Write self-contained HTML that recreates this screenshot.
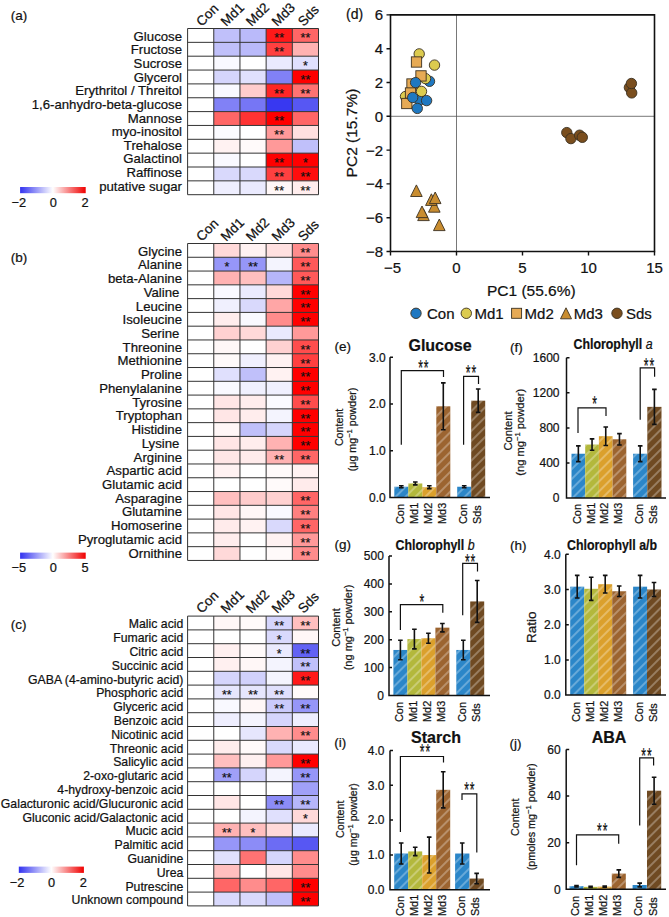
<!DOCTYPE html>
<html><head><meta charset="utf-8"><style>
html,body{margin:0;padding:0;background:#fff;}
body{width:669px;height:917px;overflow:hidden;}
svg{display:block;font-family:"Liberation Sans", sans-serif;}
text{stroke:#111;stroke-width:0.22px;}
</style></head><body>
<svg width="669" height="917" viewBox="0 0 669 917">
<rect width="669" height="917" fill="#fff"/>
<text x="10.8" y="20.3" font-size="13.5" text-anchor="start" font-weight="normal" fill="#111" >(a)</text>
<rect x="187.6" y="28.50" width="26.180000000000007" height="13.85" fill="rgb(255,255,255)"/>
<rect x="213.78" y="28.50" width="26.180000000000007" height="13.85" fill="rgb(192,192,250)"/>
<rect x="239.96" y="28.50" width="26.17999999999998" height="13.85" fill="rgb(186,186,250)"/>
<rect x="266.14" y="28.50" width="26.180000000000007" height="13.85" fill="rgb(255,25,25)"/>
<rect x="292.32" y="28.50" width="26.180000000000007" height="13.85" fill="rgb(255,102,102)"/>
<text x="182" y="40.8" font-size="13.2" text-anchor="end" font-weight="normal" fill="#111" >Glucose</text>
<text x="279.23" y="42.324999999999996" font-size="12.5" text-anchor="middle" font-weight="normal" fill="#111" stroke="#111" stroke-width="0.3">**</text>
<text x="305.40999999999997" y="42.324999999999996" font-size="12.5" text-anchor="middle" font-weight="normal" fill="#111" stroke="#111" stroke-width="0.3">**</text>
<rect x="187.6" y="42.35" width="26.180000000000007" height="13.85" fill="rgb(255,255,255)"/>
<rect x="213.78" y="42.35" width="26.180000000000007" height="13.85" fill="rgb(192,192,250)"/>
<rect x="239.96" y="42.35" width="26.17999999999998" height="13.85" fill="rgb(186,186,250)"/>
<rect x="266.14" y="42.35" width="26.180000000000007" height="13.85" fill="rgb(255,64,64)"/>
<rect x="292.32" y="42.35" width="26.180000000000007" height="13.85" fill="rgb(255,178,178)"/>
<text x="182" y="54.419999999999995" font-size="13.2" text-anchor="end" font-weight="normal" fill="#111" >Fructose</text>
<text x="279.23" y="56.175" font-size="12.5" text-anchor="middle" font-weight="normal" fill="#111" stroke="#111" stroke-width="0.3">**</text>
<rect x="187.6" y="56.20" width="26.180000000000007" height="13.85" fill="rgb(255,255,255)"/>
<rect x="213.78" y="56.20" width="26.180000000000007" height="13.85" fill="rgb(249,249,255)"/>
<rect x="239.96" y="56.20" width="26.17999999999998" height="13.85" fill="rgb(255,255,255)"/>
<rect x="266.14" y="56.20" width="26.180000000000007" height="13.85" fill="rgb(234,234,254)"/>
<rect x="292.32" y="56.20" width="26.180000000000007" height="13.85" fill="rgb(224,224,253)"/>
<text x="182" y="68.03999999999999" font-size="13.2" text-anchor="end" font-weight="normal" fill="#111" >Sucrose</text>
<text x="305.40999999999997" y="70.025" font-size="12.5" text-anchor="middle" font-weight="normal" fill="#111" stroke="#111" stroke-width="0.3">*</text>
<rect x="187.6" y="70.05" width="26.180000000000007" height="13.85" fill="rgb(255,255,255)"/>
<rect x="213.78" y="70.05" width="26.180000000000007" height="13.85" fill="rgb(213,213,252)"/>
<rect x="239.96" y="70.05" width="26.17999999999998" height="13.85" fill="rgb(224,224,253)"/>
<rect x="266.14" y="70.05" width="26.180000000000007" height="13.85" fill="rgb(129,129,246)"/>
<rect x="292.32" y="70.05" width="26.180000000000007" height="13.85" fill="rgb(255,0,0)"/>
<text x="182" y="81.66" font-size="13.2" text-anchor="end" font-weight="normal" fill="#111" >Glycerol</text>
<text x="305.40999999999997" y="83.875" font-size="12.5" text-anchor="middle" font-weight="normal" fill="#111" stroke="#111" stroke-width="0.3">**</text>
<rect x="187.6" y="83.90" width="26.180000000000007" height="13.85" fill="rgb(255,255,255)"/>
<rect x="213.78" y="83.90" width="26.180000000000007" height="13.85" fill="rgb(249,249,255)"/>
<rect x="239.96" y="83.90" width="26.17999999999998" height="13.85" fill="rgb(255,204,204)"/>
<rect x="266.14" y="83.90" width="26.180000000000007" height="13.85" fill="rgb(255,38,38)"/>
<rect x="292.32" y="83.90" width="26.180000000000007" height="13.85" fill="rgb(255,115,115)"/>
<text x="182" y="95.28" font-size="13.2" text-anchor="end" font-weight="normal" fill="#111" >Erythritol / Threitol</text>
<text x="279.23" y="97.72500000000001" font-size="12.5" text-anchor="middle" font-weight="normal" fill="#111" stroke="#111" stroke-width="0.3">**</text>
<text x="305.40999999999997" y="97.72500000000001" font-size="12.5" text-anchor="middle" font-weight="normal" fill="#111" stroke="#111" stroke-width="0.3">**</text>
<rect x="187.6" y="97.75" width="26.180000000000007" height="13.85" fill="rgb(255,255,255)"/>
<rect x="213.78" y="97.75" width="26.180000000000007" height="13.85" fill="rgb(129,129,246)"/>
<rect x="239.96" y="97.75" width="26.17999999999998" height="13.85" fill="rgb(118,118,245)"/>
<rect x="266.14" y="97.75" width="26.180000000000007" height="13.85" fill="rgb(56,56,241)"/>
<rect x="292.32" y="97.75" width="26.180000000000007" height="13.85" fill="rgb(87,87,243)"/>
<text x="182" y="108.89999999999999" font-size="13.2" text-anchor="end" font-weight="normal" fill="#111" >1,6-anhydro-beta-glucose</text>
<rect x="187.6" y="111.60" width="26.180000000000007" height="13.85" fill="rgb(255,255,255)"/>
<rect x="213.78" y="111.60" width="26.180000000000007" height="13.85" fill="rgb(255,102,102)"/>
<rect x="239.96" y="111.60" width="26.17999999999998" height="13.85" fill="rgb(255,51,51)"/>
<rect x="266.14" y="111.60" width="26.180000000000007" height="13.85" fill="rgb(255,0,0)"/>
<rect x="292.32" y="111.60" width="26.180000000000007" height="13.85" fill="rgb(255,102,102)"/>
<text x="182" y="122.52" font-size="13.2" text-anchor="end" font-weight="normal" fill="#111" >Mannose</text>
<text x="279.23" y="125.425" font-size="12.5" text-anchor="middle" font-weight="normal" fill="#111" stroke="#111" stroke-width="0.3">**</text>
<rect x="187.6" y="125.45" width="26.180000000000007" height="13.85" fill="rgb(255,255,255)"/>
<rect x="213.78" y="125.45" width="26.180000000000007" height="13.85" fill="rgb(251,251,255)"/>
<rect x="239.96" y="125.45" width="26.17999999999998" height="13.85" fill="rgb(255,255,255)"/>
<rect x="266.14" y="125.45" width="26.180000000000007" height="13.85" fill="rgb(255,153,153)"/>
<rect x="292.32" y="125.45" width="26.180000000000007" height="13.85" fill="rgb(255,224,224)"/>
<text x="182" y="136.14" font-size="13.2" text-anchor="end" font-weight="normal" fill="#111" >myo-inositol</text>
<text x="279.23" y="139.275" font-size="12.5" text-anchor="middle" font-weight="normal" fill="#111" stroke="#111" stroke-width="0.3">**</text>
<rect x="187.6" y="139.30" width="26.180000000000007" height="13.85" fill="rgb(255,255,255)"/>
<rect x="213.78" y="139.30" width="26.180000000000007" height="13.85" fill="rgb(255,242,242)"/>
<rect x="239.96" y="139.30" width="26.17999999999998" height="13.85" fill="rgb(255,250,250)"/>
<rect x="266.14" y="139.30" width="26.180000000000007" height="13.85" fill="rgb(255,153,153)"/>
<rect x="292.32" y="139.30" width="26.180000000000007" height="13.85" fill="rgb(192,192,250)"/>
<text x="182" y="149.76" font-size="13.2" text-anchor="end" font-weight="normal" fill="#111" >Trehalose</text>
<rect x="187.6" y="153.15" width="26.180000000000007" height="13.85" fill="rgb(255,255,255)"/>
<rect x="213.78" y="153.15" width="26.180000000000007" height="13.85" fill="rgb(249,249,255)"/>
<rect x="239.96" y="153.15" width="26.17999999999998" height="13.85" fill="rgb(255,255,255)"/>
<rect x="266.14" y="153.15" width="26.180000000000007" height="13.85" fill="rgb(255,0,0)"/>
<rect x="292.32" y="153.15" width="26.180000000000007" height="13.85" fill="rgb(255,0,0)"/>
<text x="182" y="163.38" font-size="13.2" text-anchor="end" font-weight="normal" fill="#111" >Galactinol</text>
<text x="279.23" y="166.975" font-size="12.5" text-anchor="middle" font-weight="normal" fill="#111" stroke="#111" stroke-width="0.3">**</text>
<text x="305.40999999999997" y="166.975" font-size="12.5" text-anchor="middle" font-weight="normal" fill="#111" stroke="#111" stroke-width="0.3">*</text>
<rect x="187.6" y="167.00" width="26.180000000000007" height="13.85" fill="rgb(255,255,255)"/>
<rect x="213.78" y="167.00" width="26.180000000000007" height="13.85" fill="rgb(217,217,252)"/>
<rect x="239.96" y="167.00" width="26.17999999999998" height="13.85" fill="rgb(217,217,252)"/>
<rect x="266.14" y="167.00" width="26.180000000000007" height="13.85" fill="rgb(255,64,64)"/>
<rect x="292.32" y="167.00" width="26.180000000000007" height="13.85" fill="rgb(255,13,13)"/>
<text x="182" y="177.0" font-size="13.2" text-anchor="end" font-weight="normal" fill="#111" >Raffinose</text>
<text x="279.23" y="180.82500000000002" font-size="12.5" text-anchor="middle" font-weight="normal" fill="#111" stroke="#111" stroke-width="0.3">**</text>
<text x="305.40999999999997" y="180.82500000000002" font-size="12.5" text-anchor="middle" font-weight="normal" fill="#111" stroke="#111" stroke-width="0.3">**</text>
<rect x="187.6" y="180.85" width="26.180000000000007" height="13.85" fill="rgb(255,255,255)"/>
<rect x="213.78" y="180.85" width="26.180000000000007" height="13.85" fill="rgb(238,238,254)"/>
<rect x="239.96" y="180.85" width="26.17999999999998" height="13.85" fill="rgb(234,234,254)"/>
<rect x="266.14" y="180.85" width="26.180000000000007" height="13.85" fill="rgb(255,247,247)"/>
<rect x="292.32" y="180.85" width="26.180000000000007" height="13.85" fill="rgb(255,237,237)"/>
<text x="182" y="190.62" font-size="13.2" text-anchor="end" font-weight="normal" fill="#111" >putative sugar</text>
<text x="279.23" y="194.675" font-size="12.5" text-anchor="middle" font-weight="normal" fill="#111" stroke="#111" stroke-width="0.3">**</text>
<text x="305.40999999999997" y="194.675" font-size="12.5" text-anchor="middle" font-weight="normal" fill="#111" stroke="#111" stroke-width="0.3">**</text>
<path d="M187.6 28.5V194.70 M213.78 28.5V194.70 M239.96 28.5V194.70 M266.14 28.5V194.70 M292.32 28.5V194.70 M318.5 28.5V194.70 M187.6 28.50H318.5 M187.6 42.35H318.5 M187.6 56.20H318.5 M187.6 70.05H318.5 M187.6 83.90H318.5 M187.6 97.75H318.5 M187.6 111.60H318.5 M187.6 125.45H318.5 M187.6 139.30H318.5 M187.6 153.15H318.5 M187.6 167.00H318.5 M187.6 180.85H318.5 M187.6 194.70H318.5" stroke="#333" stroke-width="1" fill="none"/>
<text x="0" y="0" font-size="13.5" fill="#111" transform="translate(201.69 27) rotate(-45)">Con</text>
<text x="0" y="0" font-size="13.5" fill="#111" transform="translate(226.37 27) rotate(-45)">Md1</text>
<text x="0" y="0" font-size="13.5" fill="#111" transform="translate(251.55 27) rotate(-45)">Md2</text>
<text x="0" y="0" font-size="13.5" fill="#111" transform="translate(277.23 27) rotate(-45)">Md3</text>
<text x="0" y="0" font-size="13.5" fill="#111" transform="translate(303.40999999999997 27) rotate(-45)">Sds</text>
<defs><linearGradient id="g1" x1="0" x2="1" y1="0" y2="0"><stop offset="0" stop-color="rgb(50,50,240)"/><stop offset="0.5" stop-color="#ffffff"/><stop offset="1" stop-color="rgb(240,0,0)"/></linearGradient></defs>
<rect x="20.1" y="187" width="65.6" height="6.2" fill="url(#g1)"/>
<text x="18.85" y="206.5" font-size="12.8" text-anchor="middle" font-weight="normal" fill="#111" >−2</text>
<text x="53.4" y="206.5" font-size="12.8" text-anchor="middle" font-weight="normal" fill="#111" >0</text>
<text x="85" y="206.5" font-size="12.8" text-anchor="middle" font-weight="normal" fill="#111" >2</text>
<text x="10.8" y="261.5" font-size="13.5" text-anchor="start" font-weight="normal" fill="#111" >(b)</text>
<rect x="187.6" y="243.50" width="26.180000000000007" height="13.78" fill="rgb(255,255,255)"/>
<rect x="213.78" y="243.50" width="26.180000000000007" height="13.78" fill="rgb(255,217,217)"/>
<rect x="239.96" y="243.50" width="26.17999999999998" height="13.78" fill="rgb(255,242,242)"/>
<rect x="266.14" y="243.50" width="26.180000000000007" height="13.78" fill="rgb(255,224,224)"/>
<rect x="292.32" y="243.50" width="26.180000000000007" height="13.78" fill="rgb(255,140,140)"/>
<text x="182" y="255.6" font-size="13.2" text-anchor="end" font-weight="normal" fill="#111" >Glycine</text>
<text x="305.40999999999997" y="257.28999999999996" font-size="12.5" text-anchor="middle" font-weight="normal" fill="#111" stroke="#111" stroke-width="0.3">**</text>
<rect x="187.6" y="257.28" width="26.180000000000007" height="13.78" fill="rgb(255,255,255)"/>
<rect x="213.78" y="257.28" width="26.180000000000007" height="13.78" fill="rgb(150,150,248)"/>
<rect x="239.96" y="257.28" width="26.17999999999998" height="13.78" fill="rgb(150,150,248)"/>
<rect x="266.14" y="257.28" width="26.180000000000007" height="13.78" fill="rgb(244,244,254)"/>
<rect x="292.32" y="257.28" width="26.180000000000007" height="13.78" fill="rgb(255,89,89)"/>
<text x="182" y="269.33" font-size="13.2" text-anchor="end" font-weight="normal" fill="#111" >Alanine</text>
<text x="226.87" y="271.06999999999994" font-size="12.5" text-anchor="middle" font-weight="normal" fill="#111" stroke="#111" stroke-width="0.3">*</text>
<text x="253.05" y="271.06999999999994" font-size="12.5" text-anchor="middle" font-weight="normal" fill="#111" stroke="#111" stroke-width="0.3">**</text>
<text x="305.40999999999997" y="271.06999999999994" font-size="12.5" text-anchor="middle" font-weight="normal" fill="#111" stroke="#111" stroke-width="0.3">**</text>
<rect x="187.6" y="271.06" width="26.180000000000007" height="13.78" fill="rgb(255,255,255)"/>
<rect x="213.78" y="271.06" width="26.180000000000007" height="13.78" fill="rgb(255,178,178)"/>
<rect x="239.96" y="271.06" width="26.17999999999998" height="13.78" fill="rgb(255,191,191)"/>
<rect x="266.14" y="271.06" width="26.180000000000007" height="13.78" fill="rgb(182,182,250)"/>
<rect x="292.32" y="271.06" width="26.180000000000007" height="13.78" fill="rgb(255,89,89)"/>
<text x="182" y="283.06" font-size="13.2" text-anchor="end" font-weight="normal" fill="#111" >beta-Alanine</text>
<text x="305.40999999999997" y="284.84999999999997" font-size="12.5" text-anchor="middle" font-weight="normal" fill="#111" stroke="#111" stroke-width="0.3">**</text>
<rect x="187.6" y="284.84" width="26.180000000000007" height="13.78" fill="rgb(255,255,255)"/>
<rect x="213.78" y="284.84" width="26.180000000000007" height="13.78" fill="rgb(249,249,255)"/>
<rect x="239.96" y="284.84" width="26.17999999999998" height="13.78" fill="rgb(234,234,254)"/>
<rect x="266.14" y="284.84" width="26.180000000000007" height="13.78" fill="rgb(255,217,217)"/>
<rect x="292.32" y="284.84" width="26.180000000000007" height="13.78" fill="rgb(255,0,0)"/>
<text x="182" y="296.78999999999996" font-size="13.2" text-anchor="end" font-weight="normal" fill="#111" >Valine&#8201;</text>
<text x="305.40999999999997" y="298.62999999999994" font-size="12.5" text-anchor="middle" font-weight="normal" fill="#111" stroke="#111" stroke-width="0.3">**</text>
<rect x="187.6" y="298.62" width="26.180000000000007" height="13.78" fill="rgb(255,255,255)"/>
<rect x="213.78" y="298.62" width="26.180000000000007" height="13.78" fill="rgb(240,240,254)"/>
<rect x="239.96" y="298.62" width="26.17999999999998" height="13.78" fill="rgb(217,217,252)"/>
<rect x="266.14" y="298.62" width="26.180000000000007" height="13.78" fill="rgb(255,166,166)"/>
<rect x="292.32" y="298.62" width="26.180000000000007" height="13.78" fill="rgb(255,0,0)"/>
<text x="182" y="310.52" font-size="13.2" text-anchor="end" font-weight="normal" fill="#111" >Leucine</text>
<text x="305.40999999999997" y="312.40999999999997" font-size="12.5" text-anchor="middle" font-weight="normal" fill="#111" stroke="#111" stroke-width="0.3">**</text>
<rect x="187.6" y="312.40" width="26.180000000000007" height="13.78" fill="rgb(255,255,255)"/>
<rect x="213.78" y="312.40" width="26.180000000000007" height="13.78" fill="rgb(255,237,237)"/>
<rect x="239.96" y="312.40" width="26.17999999999998" height="13.78" fill="rgb(249,249,255)"/>
<rect x="266.14" y="312.40" width="26.180000000000007" height="13.78" fill="rgb(255,140,140)"/>
<rect x="292.32" y="312.40" width="26.180000000000007" height="13.78" fill="rgb(255,0,0)"/>
<text x="182" y="324.25" font-size="13.2" text-anchor="end" font-weight="normal" fill="#111" >Isoleucine</text>
<text x="305.40999999999997" y="326.18999999999994" font-size="12.5" text-anchor="middle" font-weight="normal" fill="#111" stroke="#111" stroke-width="0.3">**</text>
<rect x="187.6" y="326.18" width="26.180000000000007" height="13.78" fill="rgb(255,255,255)"/>
<rect x="213.78" y="326.18" width="26.180000000000007" height="13.78" fill="rgb(255,209,209)"/>
<rect x="239.96" y="326.18" width="26.17999999999998" height="13.78" fill="rgb(255,217,217)"/>
<rect x="266.14" y="326.18" width="26.180000000000007" height="13.78" fill="rgb(234,234,254)"/>
<rect x="292.32" y="326.18" width="26.180000000000007" height="13.78" fill="rgb(255,153,153)"/>
<text x="182" y="337.98" font-size="13.2" text-anchor="end" font-weight="normal" fill="#111" >Serine&#8201;</text>
<rect x="187.6" y="339.96" width="26.180000000000007" height="13.78" fill="rgb(255,255,255)"/>
<rect x="213.78" y="339.96" width="26.180000000000007" height="13.78" fill="rgb(255,247,247)"/>
<rect x="239.96" y="339.96" width="26.17999999999998" height="13.78" fill="rgb(255,255,255)"/>
<rect x="266.14" y="339.96" width="26.180000000000007" height="13.78" fill="rgb(255,209,209)"/>
<rect x="292.32" y="339.96" width="26.180000000000007" height="13.78" fill="rgb(255,77,77)"/>
<text x="182" y="351.71" font-size="13.2" text-anchor="end" font-weight="normal" fill="#111" >Threonine</text>
<text x="305.40999999999997" y="353.74999999999994" font-size="12.5" text-anchor="middle" font-weight="normal" fill="#111" stroke="#111" stroke-width="0.3">**</text>
<rect x="187.6" y="353.74" width="26.180000000000007" height="13.78" fill="rgb(255,255,255)"/>
<rect x="213.78" y="353.74" width="26.180000000000007" height="13.78" fill="rgb(255,250,250)"/>
<rect x="239.96" y="353.74" width="26.17999999999998" height="13.78" fill="rgb(240,240,254)"/>
<rect x="266.14" y="353.74" width="26.180000000000007" height="13.78" fill="rgb(255,242,242)"/>
<rect x="292.32" y="353.74" width="26.180000000000007" height="13.78" fill="rgb(255,64,64)"/>
<text x="182" y="365.44" font-size="13.2" text-anchor="end" font-weight="normal" fill="#111" >Methionine</text>
<text x="305.40999999999997" y="367.53" font-size="12.5" text-anchor="middle" font-weight="normal" fill="#111" stroke="#111" stroke-width="0.3">**</text>
<rect x="187.6" y="367.52" width="26.180000000000007" height="13.78" fill="rgb(255,255,255)"/>
<rect x="213.78" y="367.52" width="26.180000000000007" height="13.78" fill="rgb(224,224,253)"/>
<rect x="239.96" y="367.52" width="26.17999999999998" height="13.78" fill="rgb(192,192,250)"/>
<rect x="266.14" y="367.52" width="26.180000000000007" height="13.78" fill="rgb(255,242,242)"/>
<rect x="292.32" y="367.52" width="26.180000000000007" height="13.78" fill="rgb(255,0,0)"/>
<text x="182" y="379.17" font-size="13.2" text-anchor="end" font-weight="normal" fill="#111" >Proline</text>
<text x="305.40999999999997" y="381.30999999999995" font-size="12.5" text-anchor="middle" font-weight="normal" fill="#111" stroke="#111" stroke-width="0.3">**</text>
<rect x="187.6" y="381.30" width="26.180000000000007" height="13.78" fill="rgb(255,255,255)"/>
<rect x="213.78" y="381.30" width="26.180000000000007" height="13.78" fill="rgb(249,249,255)"/>
<rect x="239.96" y="381.30" width="26.17999999999998" height="13.78" fill="rgb(240,240,254)"/>
<rect x="266.14" y="381.30" width="26.180000000000007" height="13.78" fill="rgb(240,240,254)"/>
<rect x="292.32" y="381.30" width="26.180000000000007" height="13.78" fill="rgb(255,0,0)"/>
<text x="182" y="392.9" font-size="13.2" text-anchor="end" font-weight="normal" fill="#111" >Phenylalanine</text>
<text x="305.40999999999997" y="395.0899999999999" font-size="12.5" text-anchor="middle" font-weight="normal" fill="#111" stroke="#111" stroke-width="0.3">**</text>
<rect x="187.6" y="395.08" width="26.180000000000007" height="13.78" fill="rgb(255,255,255)"/>
<rect x="213.78" y="395.08" width="26.180000000000007" height="13.78" fill="rgb(255,230,230)"/>
<rect x="239.96" y="395.08" width="26.17999999999998" height="13.78" fill="rgb(255,237,237)"/>
<rect x="266.14" y="395.08" width="26.180000000000007" height="13.78" fill="rgb(251,251,255)"/>
<rect x="292.32" y="395.08" width="26.180000000000007" height="13.78" fill="rgb(255,77,77)"/>
<text x="182" y="406.63" font-size="13.2" text-anchor="end" font-weight="normal" fill="#111" >Tyrosine</text>
<text x="305.40999999999997" y="408.86999999999995" font-size="12.5" text-anchor="middle" font-weight="normal" fill="#111" stroke="#111" stroke-width="0.3">**</text>
<rect x="187.6" y="408.86" width="26.180000000000007" height="13.78" fill="rgb(255,255,255)"/>
<rect x="213.78" y="408.86" width="26.180000000000007" height="13.78" fill="rgb(255,230,230)"/>
<rect x="239.96" y="408.86" width="26.17999999999998" height="13.78" fill="rgb(255,237,237)"/>
<rect x="266.14" y="408.86" width="26.180000000000007" height="13.78" fill="rgb(244,244,254)"/>
<rect x="292.32" y="408.86" width="26.180000000000007" height="13.78" fill="rgb(255,0,0)"/>
<text x="182" y="420.36" font-size="13.2" text-anchor="end" font-weight="normal" fill="#111" >Tryptophan</text>
<text x="305.40999999999997" y="422.65" font-size="12.5" text-anchor="middle" font-weight="normal" fill="#111" stroke="#111" stroke-width="0.3">**</text>
<rect x="187.6" y="422.64" width="26.180000000000007" height="13.78" fill="rgb(255,255,255)"/>
<rect x="213.78" y="422.64" width="26.180000000000007" height="13.78" fill="rgb(255,247,247)"/>
<rect x="239.96" y="422.64" width="26.17999999999998" height="13.78" fill="rgb(192,192,250)"/>
<rect x="266.14" y="422.64" width="26.180000000000007" height="13.78" fill="rgb(213,213,252)"/>
<rect x="292.32" y="422.64" width="26.180000000000007" height="13.78" fill="rgb(255,0,0)"/>
<text x="182" y="434.09000000000003" font-size="13.2" text-anchor="end" font-weight="normal" fill="#111" >Histidine</text>
<text x="305.40999999999997" y="436.42999999999995" font-size="12.5" text-anchor="middle" font-weight="normal" fill="#111" stroke="#111" stroke-width="0.3">**</text>
<rect x="187.6" y="436.42" width="26.180000000000007" height="13.78" fill="rgb(255,255,255)"/>
<rect x="213.78" y="436.42" width="26.180000000000007" height="13.78" fill="rgb(255,230,230)"/>
<rect x="239.96" y="436.42" width="26.17999999999998" height="13.78" fill="rgb(255,237,237)"/>
<rect x="266.14" y="436.42" width="26.180000000000007" height="13.78" fill="rgb(255,178,178)"/>
<rect x="292.32" y="436.42" width="26.180000000000007" height="13.78" fill="rgb(255,0,0)"/>
<text x="182" y="447.82" font-size="13.2" text-anchor="end" font-weight="normal" fill="#111" >Lysine&#8201;</text>
<text x="305.40999999999997" y="450.2099999999999" font-size="12.5" text-anchor="middle" font-weight="normal" fill="#111" stroke="#111" stroke-width="0.3">**</text>
<rect x="187.6" y="450.20" width="26.180000000000007" height="13.78" fill="rgb(255,255,255)"/>
<rect x="213.78" y="450.20" width="26.180000000000007" height="13.78" fill="rgb(255,230,230)"/>
<rect x="239.96" y="450.20" width="26.17999999999998" height="13.78" fill="rgb(255,235,235)"/>
<rect x="266.14" y="450.20" width="26.180000000000007" height="13.78" fill="rgb(255,178,178)"/>
<rect x="292.32" y="450.20" width="26.180000000000007" height="13.78" fill="rgb(255,102,102)"/>
<text x="182" y="461.55" font-size="13.2" text-anchor="end" font-weight="normal" fill="#111" >Arginine</text>
<text x="279.23" y="463.98999999999995" font-size="12.5" text-anchor="middle" font-weight="normal" fill="#111" stroke="#111" stroke-width="0.3">**</text>
<text x="305.40999999999997" y="463.98999999999995" font-size="12.5" text-anchor="middle" font-weight="normal" fill="#111" stroke="#111" stroke-width="0.3">**</text>
<rect x="187.6" y="463.98" width="26.180000000000007" height="13.78" fill="rgb(255,255,255)"/>
<rect x="213.78" y="463.98" width="26.180000000000007" height="13.78" fill="rgb(255,242,242)"/>
<rect x="239.96" y="463.98" width="26.17999999999998" height="13.78" fill="rgb(255,255,255)"/>
<rect x="266.14" y="463.98" width="26.180000000000007" height="13.78" fill="rgb(255,250,250)"/>
<rect x="292.32" y="463.98" width="26.180000000000007" height="13.78" fill="rgb(255,242,242)"/>
<text x="182" y="475.28" font-size="13.2" text-anchor="end" font-weight="normal" fill="#111" >Aspartic acid</text>
<rect x="187.6" y="477.76" width="26.180000000000007" height="13.78" fill="rgb(255,255,255)"/>
<rect x="213.78" y="477.76" width="26.180000000000007" height="13.78" fill="rgb(255,255,255)"/>
<rect x="239.96" y="477.76" width="26.17999999999998" height="13.78" fill="rgb(255,255,255)"/>
<rect x="266.14" y="477.76" width="26.180000000000007" height="13.78" fill="rgb(255,250,250)"/>
<rect x="292.32" y="477.76" width="26.180000000000007" height="13.78" fill="rgb(255,235,235)"/>
<text x="182" y="489.01" font-size="13.2" text-anchor="end" font-weight="normal" fill="#111" >Glutamic acid</text>
<rect x="187.6" y="491.54" width="26.180000000000007" height="13.78" fill="rgb(255,255,255)"/>
<rect x="213.78" y="491.54" width="26.180000000000007" height="13.78" fill="rgb(255,191,191)"/>
<rect x="239.96" y="491.54" width="26.17999999999998" height="13.78" fill="rgb(255,204,204)"/>
<rect x="266.14" y="491.54" width="26.180000000000007" height="13.78" fill="rgb(255,209,209)"/>
<rect x="292.32" y="491.54" width="26.180000000000007" height="13.78" fill="rgb(255,102,102)"/>
<text x="182" y="502.74" font-size="13.2" text-anchor="end" font-weight="normal" fill="#111" >Asparagine</text>
<text x="305.40999999999997" y="505.3299999999999" font-size="12.5" text-anchor="middle" font-weight="normal" fill="#111" stroke="#111" stroke-width="0.3">**</text>
<rect x="187.6" y="505.32" width="26.180000000000007" height="13.78" fill="rgb(255,255,255)"/>
<rect x="213.78" y="505.32" width="26.180000000000007" height="13.78" fill="rgb(255,230,230)"/>
<rect x="239.96" y="505.32" width="26.17999999999998" height="13.78" fill="rgb(255,247,247)"/>
<rect x="266.14" y="505.32" width="26.180000000000007" height="13.78" fill="rgb(249,249,255)"/>
<rect x="292.32" y="505.32" width="26.180000000000007" height="13.78" fill="rgb(255,128,128)"/>
<text x="182" y="516.47" font-size="13.2" text-anchor="end" font-weight="normal" fill="#111" >Glutamine</text>
<text x="305.40999999999997" y="519.11" font-size="12.5" text-anchor="middle" font-weight="normal" fill="#111" stroke="#111" stroke-width="0.3">**</text>
<rect x="187.6" y="519.10" width="26.180000000000007" height="13.78" fill="rgb(255,255,255)"/>
<rect x="213.78" y="519.10" width="26.180000000000007" height="13.78" fill="rgb(255,235,235)"/>
<rect x="239.96" y="519.10" width="26.17999999999998" height="13.78" fill="rgb(255,242,242)"/>
<rect x="266.14" y="519.10" width="26.180000000000007" height="13.78" fill="rgb(217,217,252)"/>
<rect x="292.32" y="519.10" width="26.180000000000007" height="13.78" fill="rgb(255,102,102)"/>
<text x="182" y="530.2" font-size="13.2" text-anchor="end" font-weight="normal" fill="#111" >Homoserine</text>
<text x="305.40999999999997" y="532.8899999999999" font-size="12.5" text-anchor="middle" font-weight="normal" fill="#111" stroke="#111" stroke-width="0.3">**</text>
<rect x="187.6" y="532.88" width="26.180000000000007" height="13.78" fill="rgb(255,255,255)"/>
<rect x="213.78" y="532.88" width="26.180000000000007" height="13.78" fill="rgb(255,237,237)"/>
<rect x="239.96" y="532.88" width="26.17999999999998" height="13.78" fill="rgb(255,255,255)"/>
<rect x="266.14" y="532.88" width="26.180000000000007" height="13.78" fill="rgb(255,242,242)"/>
<rect x="292.32" y="532.88" width="26.180000000000007" height="13.78" fill="rgb(255,153,153)"/>
<text x="182" y="543.93" font-size="13.2" text-anchor="end" font-weight="normal" fill="#111" >Pyroglutamic acid</text>
<text x="305.40999999999997" y="546.67" font-size="12.5" text-anchor="middle" font-weight="normal" fill="#111" stroke="#111" stroke-width="0.3">**</text>
<rect x="187.6" y="546.66" width="26.180000000000007" height="13.78" fill="rgb(255,255,255)"/>
<rect x="213.78" y="546.66" width="26.180000000000007" height="13.78" fill="rgb(255,217,217)"/>
<rect x="239.96" y="546.66" width="26.17999999999998" height="13.78" fill="rgb(255,255,255)"/>
<rect x="266.14" y="546.66" width="26.180000000000007" height="13.78" fill="rgb(255,250,250)"/>
<rect x="292.32" y="546.66" width="26.180000000000007" height="13.78" fill="rgb(255,140,140)"/>
<text x="182" y="557.66" font-size="13.2" text-anchor="end" font-weight="normal" fill="#111" >Ornithine</text>
<text x="305.40999999999997" y="560.4499999999999" font-size="12.5" text-anchor="middle" font-weight="normal" fill="#111" stroke="#111" stroke-width="0.3">**</text>
<path d="M187.6 243.5V560.44 M213.78 243.5V560.44 M239.96 243.5V560.44 M266.14 243.5V560.44 M292.32 243.5V560.44 M318.5 243.5V560.44 M187.6 243.50H318.5 M187.6 257.28H318.5 M187.6 271.06H318.5 M187.6 284.84H318.5 M187.6 298.62H318.5 M187.6 312.40H318.5 M187.6 326.18H318.5 M187.6 339.96H318.5 M187.6 353.74H318.5 M187.6 367.52H318.5 M187.6 381.30H318.5 M187.6 395.08H318.5 M187.6 408.86H318.5 M187.6 422.64H318.5 M187.6 436.42H318.5 M187.6 450.20H318.5 M187.6 463.98H318.5 M187.6 477.76H318.5 M187.6 491.54H318.5 M187.6 505.32H318.5 M187.6 519.10H318.5 M187.6 532.88H318.5 M187.6 546.66H318.5 M187.6 560.44H318.5" stroke="#333" stroke-width="1" fill="none"/>
<text x="0" y="0" font-size="13.5" fill="#111" transform="translate(201.69 242) rotate(-45)">Con</text>
<text x="0" y="0" font-size="13.5" fill="#111" transform="translate(226.37 242) rotate(-45)">Md1</text>
<text x="0" y="0" font-size="13.5" fill="#111" transform="translate(251.55 242) rotate(-45)">Md2</text>
<text x="0" y="0" font-size="13.5" fill="#111" transform="translate(277.23 242) rotate(-45)">Md3</text>
<text x="0" y="0" font-size="13.5" fill="#111" transform="translate(303.40999999999997 242) rotate(-45)">Sds</text>
<defs><linearGradient id="g2" x1="0" x2="1" y1="0" y2="0"><stop offset="0" stop-color="rgb(50,50,240)"/><stop offset="0.5" stop-color="#ffffff"/><stop offset="1" stop-color="rgb(240,0,0)"/></linearGradient></defs>
<rect x="20.1" y="552.6" width="65.6" height="6.2" fill="url(#g2)"/>
<text x="18.85" y="572.3" font-size="12.8" text-anchor="middle" font-weight="normal" fill="#111" >−5</text>
<text x="53.4" y="572.3" font-size="12.8" text-anchor="middle" font-weight="normal" fill="#111" >0</text>
<text x="85" y="572.3" font-size="12.8" text-anchor="middle" font-weight="normal" fill="#111" >5</text>
<text x="10.8" y="629" font-size="13.5" text-anchor="start" font-weight="normal" fill="#111" >(c)</text>
<rect x="187.6" y="616.10" width="26.180000000000007" height="13.80" fill="rgb(255,255,255)"/>
<rect x="213.78" y="616.10" width="26.180000000000007" height="13.80" fill="rgb(255,247,247)"/>
<rect x="239.96" y="616.10" width="26.17999999999998" height="13.80" fill="rgb(255,250,250)"/>
<rect x="266.14" y="616.10" width="26.180000000000007" height="13.80" fill="rgb(213,213,252)"/>
<rect x="292.32" y="616.10" width="26.180000000000007" height="13.80" fill="rgb(255,191,191)"/>
<text x="183.3" y="628.31" font-size="12.25" text-anchor="end" font-weight="normal" fill="#111" >Malic acid</text>
<text x="279.23" y="629.9" font-size="12.5" text-anchor="middle" font-weight="normal" fill="#111" stroke="#111" stroke-width="0.3">**</text>
<text x="305.40999999999997" y="629.9" font-size="12.5" text-anchor="middle" font-weight="normal" fill="#111" stroke="#111" stroke-width="0.3">**</text>
<rect x="187.6" y="629.90" width="26.180000000000007" height="13.80" fill="rgb(255,255,255)"/>
<rect x="213.78" y="629.90" width="26.180000000000007" height="13.80" fill="rgb(255,255,255)"/>
<rect x="239.96" y="629.90" width="26.17999999999998" height="13.80" fill="rgb(255,255,255)"/>
<rect x="266.14" y="629.90" width="26.180000000000007" height="13.80" fill="rgb(217,217,252)"/>
<rect x="292.32" y="629.90" width="26.180000000000007" height="13.80" fill="rgb(255,247,247)"/>
<text x="183.3" y="642.1099999999999" font-size="12.25" text-anchor="end" font-weight="normal" fill="#111" >Fumaric acid</text>
<text x="279.23" y="643.6999999999999" font-size="12.5" text-anchor="middle" font-weight="normal" fill="#111" stroke="#111" stroke-width="0.3">*</text>
<rect x="187.6" y="643.70" width="26.180000000000007" height="13.80" fill="rgb(255,255,255)"/>
<rect x="213.78" y="643.70" width="26.180000000000007" height="13.80" fill="rgb(255,240,240)"/>
<rect x="239.96" y="643.70" width="26.17999999999998" height="13.80" fill="rgb(255,250,250)"/>
<rect x="266.14" y="643.70" width="26.180000000000007" height="13.80" fill="rgb(234,234,254)"/>
<rect x="292.32" y="643.70" width="26.180000000000007" height="13.80" fill="rgb(98,98,244)"/>
<text x="183.3" y="655.91" font-size="12.25" text-anchor="end" font-weight="normal" fill="#111" >Citric acid</text>
<text x="279.23" y="657.5" font-size="12.5" text-anchor="middle" font-weight="normal" fill="#111" stroke="#111" stroke-width="0.3">*</text>
<text x="305.40999999999997" y="657.5" font-size="12.5" text-anchor="middle" font-weight="normal" fill="#111" stroke="#111" stroke-width="0.3">**</text>
<rect x="187.6" y="657.50" width="26.180000000000007" height="13.80" fill="rgb(255,255,255)"/>
<rect x="213.78" y="657.50" width="26.180000000000007" height="13.80" fill="rgb(255,240,240)"/>
<rect x="239.96" y="657.50" width="26.17999999999998" height="13.80" fill="rgb(255,247,247)"/>
<rect x="266.14" y="657.50" width="26.180000000000007" height="13.80" fill="rgb(244,244,254)"/>
<rect x="292.32" y="657.50" width="26.180000000000007" height="13.80" fill="rgb(192,192,250)"/>
<text x="183.3" y="669.7099999999999" font-size="12.25" text-anchor="end" font-weight="normal" fill="#111" >Succinic acid</text>
<text x="305.40999999999997" y="671.3" font-size="12.5" text-anchor="middle" font-weight="normal" fill="#111" stroke="#111" stroke-width="0.3">**</text>
<rect x="187.6" y="671.30" width="26.180000000000007" height="13.80" fill="rgb(255,255,255)"/>
<rect x="213.78" y="671.30" width="26.180000000000007" height="13.80" fill="rgb(213,213,252)"/>
<rect x="239.96" y="671.30" width="26.17999999999998" height="13.80" fill="rgb(209,209,252)"/>
<rect x="266.14" y="671.30" width="26.180000000000007" height="13.80" fill="rgb(244,244,254)"/>
<rect x="292.32" y="671.30" width="26.180000000000007" height="13.80" fill="rgb(255,25,25)"/>
<text x="183.3" y="683.51" font-size="12.25" text-anchor="end" font-weight="normal" fill="#111" >GABA (4-amino-butyric acid)</text>
<text x="305.40999999999997" y="685.1" font-size="12.5" text-anchor="middle" font-weight="normal" fill="#111" stroke="#111" stroke-width="0.3">**</text>
<rect x="187.6" y="685.10" width="26.180000000000007" height="13.80" fill="rgb(255,255,255)"/>
<rect x="213.78" y="685.10" width="26.180000000000007" height="13.80" fill="rgb(230,230,253)"/>
<rect x="239.96" y="685.10" width="26.17999999999998" height="13.80" fill="rgb(230,230,253)"/>
<rect x="266.14" y="685.10" width="26.180000000000007" height="13.80" fill="rgb(224,224,253)"/>
<rect x="292.32" y="685.10" width="26.180000000000007" height="13.80" fill="rgb(255,250,250)"/>
<text x="183.3" y="697.31" font-size="12.25" text-anchor="end" font-weight="normal" fill="#111" >Phosphoric acid</text>
<text x="226.87" y="698.9" font-size="12.5" text-anchor="middle" font-weight="normal" fill="#111" stroke="#111" stroke-width="0.3">**</text>
<text x="253.05" y="698.9" font-size="12.5" text-anchor="middle" font-weight="normal" fill="#111" stroke="#111" stroke-width="0.3">**</text>
<text x="279.23" y="698.9" font-size="12.5" text-anchor="middle" font-weight="normal" fill="#111" stroke="#111" stroke-width="0.3">**</text>
<rect x="187.6" y="698.90" width="26.180000000000007" height="13.80" fill="rgb(255,255,255)"/>
<rect x="213.78" y="698.90" width="26.180000000000007" height="13.80" fill="rgb(249,249,255)"/>
<rect x="239.96" y="698.90" width="26.17999999999998" height="13.80" fill="rgb(255,247,247)"/>
<rect x="266.14" y="698.90" width="26.180000000000007" height="13.80" fill="rgb(202,202,251)"/>
<rect x="292.32" y="698.90" width="26.180000000000007" height="13.80" fill="rgb(150,150,248)"/>
<text x="183.3" y="711.11" font-size="12.25" text-anchor="end" font-weight="normal" fill="#111" >Glyceric acid</text>
<text x="279.23" y="712.7" font-size="12.5" text-anchor="middle" font-weight="normal" fill="#111" stroke="#111" stroke-width="0.3">**</text>
<text x="305.40999999999997" y="712.7" font-size="12.5" text-anchor="middle" font-weight="normal" fill="#111" stroke="#111" stroke-width="0.3">**</text>
<rect x="187.6" y="712.70" width="26.180000000000007" height="13.80" fill="rgb(255,255,255)"/>
<rect x="213.78" y="712.70" width="26.180000000000007" height="13.80" fill="rgb(238,238,254)"/>
<rect x="239.96" y="712.70" width="26.17999999999998" height="13.80" fill="rgb(244,244,254)"/>
<rect x="266.14" y="712.70" width="26.180000000000007" height="13.80" fill="rgb(213,213,252)"/>
<rect x="292.32" y="712.70" width="26.180000000000007" height="13.80" fill="rgb(238,238,254)"/>
<text x="183.3" y="724.91" font-size="12.25" text-anchor="end" font-weight="normal" fill="#111" >Benzoic acid</text>
<rect x="187.6" y="726.50" width="26.180000000000007" height="13.80" fill="rgb(255,255,255)"/>
<rect x="213.78" y="726.50" width="26.180000000000007" height="13.80" fill="rgb(255,255,255)"/>
<rect x="239.96" y="726.50" width="26.17999999999998" height="13.80" fill="rgb(230,230,253)"/>
<rect x="266.14" y="726.50" width="26.180000000000007" height="13.80" fill="rgb(255,178,178)"/>
<rect x="292.32" y="726.50" width="26.180000000000007" height="13.80" fill="rgb(255,140,140)"/>
<text x="183.3" y="738.7099999999999" font-size="12.25" text-anchor="end" font-weight="normal" fill="#111" >Nicotinic acid</text>
<text x="305.40999999999997" y="740.3" font-size="12.5" text-anchor="middle" font-weight="normal" fill="#111" stroke="#111" stroke-width="0.3">**</text>
<rect x="187.6" y="740.30" width="26.180000000000007" height="13.80" fill="rgb(255,255,255)"/>
<rect x="213.78" y="740.30" width="26.180000000000007" height="13.80" fill="rgb(255,237,237)"/>
<rect x="239.96" y="740.30" width="26.17999999999998" height="13.80" fill="rgb(255,250,250)"/>
<rect x="266.14" y="740.30" width="26.180000000000007" height="13.80" fill="rgb(217,217,252)"/>
<rect x="292.32" y="740.30" width="26.180000000000007" height="13.80" fill="rgb(234,234,254)"/>
<text x="183.3" y="752.51" font-size="12.25" text-anchor="end" font-weight="normal" fill="#111" >Threonic acid</text>
<rect x="187.6" y="754.10" width="26.180000000000007" height="13.80" fill="rgb(255,255,255)"/>
<rect x="213.78" y="754.10" width="26.180000000000007" height="13.80" fill="rgb(255,191,191)"/>
<rect x="239.96" y="754.10" width="26.17999999999998" height="13.80" fill="rgb(255,240,240)"/>
<rect x="266.14" y="754.10" width="26.180000000000007" height="13.80" fill="rgb(255,153,153)"/>
<rect x="292.32" y="754.10" width="26.180000000000007" height="13.80" fill="rgb(255,0,0)"/>
<text x="183.3" y="766.31" font-size="12.25" text-anchor="end" font-weight="normal" fill="#111" >Salicylic acid</text>
<text x="305.40999999999997" y="767.9" font-size="12.5" text-anchor="middle" font-weight="normal" fill="#111" stroke="#111" stroke-width="0.3">**</text>
<rect x="187.6" y="767.90" width="26.180000000000007" height="13.80" fill="rgb(255,255,255)"/>
<rect x="213.78" y="767.90" width="26.180000000000007" height="13.80" fill="rgb(160,160,248)"/>
<rect x="239.96" y="767.90" width="26.17999999999998" height="13.80" fill="rgb(213,213,252)"/>
<rect x="266.14" y="767.90" width="26.180000000000007" height="13.80" fill="rgb(244,244,254)"/>
<rect x="292.32" y="767.90" width="26.180000000000007" height="13.80" fill="rgb(150,150,248)"/>
<text x="183.3" y="780.11" font-size="12.25" text-anchor="end" font-weight="normal" fill="#111" >2-oxo-glutaric acid</text>
<text x="226.87" y="781.7" font-size="12.5" text-anchor="middle" font-weight="normal" fill="#111" stroke="#111" stroke-width="0.3">**</text>
<text x="305.40999999999997" y="781.7" font-size="12.5" text-anchor="middle" font-weight="normal" fill="#111" stroke="#111" stroke-width="0.3">**</text>
<rect x="187.6" y="781.70" width="26.180000000000007" height="13.80" fill="rgb(255,255,255)"/>
<rect x="213.78" y="781.70" width="26.180000000000007" height="13.80" fill="rgb(255,255,255)"/>
<rect x="239.96" y="781.70" width="26.17999999999998" height="13.80" fill="rgb(255,255,255)"/>
<rect x="266.14" y="781.70" width="26.180000000000007" height="13.80" fill="rgb(255,255,255)"/>
<rect x="292.32" y="781.70" width="26.180000000000007" height="13.80" fill="rgb(160,160,248)"/>
<text x="183.3" y="793.91" font-size="12.25" text-anchor="end" font-weight="normal" fill="#111" >4-hydroxy-benzoic acid</text>
<rect x="187.6" y="795.50" width="26.180000000000007" height="13.80" fill="rgb(255,255,255)"/>
<rect x="213.78" y="795.50" width="26.180000000000007" height="13.80" fill="rgb(255,230,230)"/>
<rect x="239.96" y="795.50" width="26.17999999999998" height="13.80" fill="rgb(255,255,255)"/>
<rect x="266.14" y="795.50" width="26.180000000000007" height="13.80" fill="rgb(140,140,247)"/>
<rect x="292.32" y="795.50" width="26.180000000000007" height="13.80" fill="rgb(182,182,250)"/>
<text x="183.3" y="807.7099999999999" font-size="12.25" text-anchor="end" font-weight="normal" fill="#111" >Galacturonic acid/Glucuronic acid</text>
<text x="279.23" y="809.3" font-size="12.5" text-anchor="middle" font-weight="normal" fill="#111" stroke="#111" stroke-width="0.3">**</text>
<text x="305.40999999999997" y="809.3" font-size="12.5" text-anchor="middle" font-weight="normal" fill="#111" stroke="#111" stroke-width="0.3">**</text>
<rect x="187.6" y="809.30" width="26.180000000000007" height="13.80" fill="rgb(255,255,255)"/>
<rect x="213.78" y="809.30" width="26.180000000000007" height="13.80" fill="rgb(255,255,255)"/>
<rect x="239.96" y="809.30" width="26.17999999999998" height="13.80" fill="rgb(244,244,254)"/>
<rect x="266.14" y="809.30" width="26.180000000000007" height="13.80" fill="rgb(224,224,253)"/>
<rect x="292.32" y="809.30" width="26.180000000000007" height="13.80" fill="rgb(255,217,217)"/>
<text x="183.3" y="821.51" font-size="12.25" text-anchor="end" font-weight="normal" fill="#111" >Gluconic acid/Galactonic acid</text>
<text x="305.40999999999997" y="823.1" font-size="12.5" text-anchor="middle" font-weight="normal" fill="#111" stroke="#111" stroke-width="0.3">*</text>
<rect x="187.6" y="823.10" width="26.180000000000007" height="13.80" fill="rgb(255,255,255)"/>
<rect x="213.78" y="823.10" width="26.180000000000007" height="13.80" fill="rgb(255,178,178)"/>
<rect x="239.96" y="823.10" width="26.17999999999998" height="13.80" fill="rgb(255,191,191)"/>
<rect x="266.14" y="823.10" width="26.180000000000007" height="13.80" fill="rgb(255,217,217)"/>
<rect x="292.32" y="823.10" width="26.180000000000007" height="13.80" fill="rgb(234,234,254)"/>
<text x="183.3" y="835.31" font-size="12.25" text-anchor="end" font-weight="normal" fill="#111" >Mucic acid</text>
<text x="226.87" y="836.9" font-size="12.5" text-anchor="middle" font-weight="normal" fill="#111" stroke="#111" stroke-width="0.3">**</text>
<text x="253.05" y="836.9" font-size="12.5" text-anchor="middle" font-weight="normal" fill="#111" stroke="#111" stroke-width="0.3">*</text>
<rect x="187.6" y="836.90" width="26.180000000000007" height="13.80" fill="rgb(255,255,255)"/>
<rect x="213.78" y="836.90" width="26.180000000000007" height="13.80" fill="rgb(150,150,248)"/>
<rect x="239.96" y="836.90" width="26.17999999999998" height="13.80" fill="rgb(140,140,247)"/>
<rect x="266.14" y="836.90" width="26.180000000000007" height="13.80" fill="rgb(108,108,244)"/>
<rect x="292.32" y="836.90" width="26.180000000000007" height="13.80" fill="rgb(87,87,243)"/>
<text x="183.3" y="849.11" font-size="12.25" text-anchor="end" font-weight="normal" fill="#111" >Palmitic acid</text>
<rect x="187.6" y="850.70" width="26.180000000000007" height="13.80" fill="rgb(255,255,255)"/>
<rect x="213.78" y="850.70" width="26.180000000000007" height="13.80" fill="rgb(224,224,253)"/>
<rect x="239.96" y="850.70" width="26.17999999999998" height="13.80" fill="rgb(255,115,115)"/>
<rect x="266.14" y="850.70" width="26.180000000000007" height="13.80" fill="rgb(213,213,252)"/>
<rect x="292.32" y="850.70" width="26.180000000000007" height="13.80" fill="rgb(255,140,140)"/>
<text x="183.3" y="862.91" font-size="12.25" text-anchor="end" font-weight="normal" fill="#111" >Guanidine</text>
<rect x="187.6" y="864.50" width="26.180000000000007" height="13.80" fill="rgb(255,255,255)"/>
<rect x="213.78" y="864.50" width="26.180000000000007" height="13.80" fill="rgb(255,191,191)"/>
<rect x="239.96" y="864.50" width="26.17999999999998" height="13.80" fill="rgb(255,255,255)"/>
<rect x="266.14" y="864.50" width="26.180000000000007" height="13.80" fill="rgb(255,230,230)"/>
<rect x="292.32" y="864.50" width="26.180000000000007" height="13.80" fill="rgb(255,140,140)"/>
<text x="183.3" y="876.7099999999999" font-size="12.25" text-anchor="end" font-weight="normal" fill="#111" >Urea</text>
<rect x="187.6" y="878.30" width="26.180000000000007" height="13.80" fill="rgb(255,255,255)"/>
<rect x="213.78" y="878.30" width="26.180000000000007" height="13.80" fill="rgb(255,102,102)"/>
<rect x="239.96" y="878.30" width="26.17999999999998" height="13.80" fill="rgb(255,140,140)"/>
<rect x="266.14" y="878.30" width="26.180000000000007" height="13.80" fill="rgb(255,102,102)"/>
<rect x="292.32" y="878.30" width="26.180000000000007" height="13.80" fill="rgb(255,0,0)"/>
<text x="183.3" y="890.5099999999999" font-size="12.25" text-anchor="end" font-weight="normal" fill="#111" >Putrescine</text>
<text x="305.40999999999997" y="892.0999999999999" font-size="12.5" text-anchor="middle" font-weight="normal" fill="#111" stroke="#111" stroke-width="0.3">**</text>
<rect x="187.6" y="892.10" width="26.180000000000007" height="13.80" fill="rgb(255,255,255)"/>
<rect x="213.78" y="892.10" width="26.180000000000007" height="13.80" fill="rgb(217,217,252)"/>
<rect x="239.96" y="892.10" width="26.17999999999998" height="13.80" fill="rgb(217,217,252)"/>
<rect x="266.14" y="892.10" width="26.180000000000007" height="13.80" fill="rgb(192,192,250)"/>
<rect x="292.32" y="892.10" width="26.180000000000007" height="13.80" fill="rgb(255,0,0)"/>
<text x="183.3" y="904.31" font-size="12.25" text-anchor="end" font-weight="normal" fill="#111" >Unknown compound</text>
<text x="305.40999999999997" y="905.9" font-size="12.5" text-anchor="middle" font-weight="normal" fill="#111" stroke="#111" stroke-width="0.3">**</text>
<path d="M187.6 616.1V905.90 M213.78 616.1V905.90 M239.96 616.1V905.90 M266.14 616.1V905.90 M292.32 616.1V905.90 M318.5 616.1V905.90 M187.6 616.10H318.5 M187.6 629.90H318.5 M187.6 643.70H318.5 M187.6 657.50H318.5 M187.6 671.30H318.5 M187.6 685.10H318.5 M187.6 698.90H318.5 M187.6 712.70H318.5 M187.6 726.50H318.5 M187.6 740.30H318.5 M187.6 754.10H318.5 M187.6 767.90H318.5 M187.6 781.70H318.5 M187.6 795.50H318.5 M187.6 809.30H318.5 M187.6 823.10H318.5 M187.6 836.90H318.5 M187.6 850.70H318.5 M187.6 864.50H318.5 M187.6 878.30H318.5 M187.6 892.10H318.5 M187.6 905.90H318.5" stroke="#333" stroke-width="1" fill="none"/>
<text x="0" y="0" font-size="13.5" fill="#111" transform="translate(201.69 614) rotate(-45)">Con</text>
<text x="0" y="0" font-size="13.5" fill="#111" transform="translate(226.37 614) rotate(-45)">Md1</text>
<text x="0" y="0" font-size="13.5" fill="#111" transform="translate(251.55 614) rotate(-45)">Md2</text>
<text x="0" y="0" font-size="13.5" fill="#111" transform="translate(277.23 614) rotate(-45)">Md3</text>
<text x="0" y="0" font-size="13.5" fill="#111" transform="translate(303.40999999999997 614) rotate(-45)">Sds</text>
<defs><linearGradient id="g3" x1="0" x2="1" y1="0" y2="0"><stop offset="0" stop-color="rgb(50,50,240)"/><stop offset="0.5" stop-color="#ffffff"/><stop offset="1" stop-color="rgb(240,0,0)"/></linearGradient></defs>
<rect x="18.8" y="866.6" width="65.1" height="6.3" fill="url(#g3)"/>
<text x="17.05" y="886.6" font-size="12.8" text-anchor="middle" font-weight="normal" fill="#111" >−2</text>
<text x="51.6" y="886.6" font-size="12.8" text-anchor="middle" font-weight="normal" fill="#111" >0</text>
<text x="83.4" y="886.6" font-size="12.8" text-anchor="middle" font-weight="normal" fill="#111" >2</text>
<text x="346" y="19" font-size="14" text-anchor="start" font-weight="normal" fill="#111" >(d)</text>
<path d="M456.5 14.900000000000006V251.5 M390.5 116.3H654.5" stroke="#555" stroke-width="0.8" fill="none"/>
<path d="M390.5 251.5V14.900000000000006H654.5V251.5H390.5" stroke="#111" stroke-width="1.6" fill="none"/>
<text x="383.2" y="20.300000000000004" font-size="15" text-anchor="end" font-weight="normal" fill="#111" >6</text>
<text x="383.2" y="54.1" font-size="15" text-anchor="end" font-weight="normal" fill="#111" >4</text>
<text x="383.2" y="87.9" font-size="15" text-anchor="end" font-weight="normal" fill="#111" >2</text>
<text x="383.2" y="121.7" font-size="15" text-anchor="end" font-weight="normal" fill="#111" >0</text>
<text x="383.2" y="155.5" font-size="15" text-anchor="end" font-weight="normal" fill="#111" >−2</text>
<text x="383.2" y="189.29999999999998" font-size="15" text-anchor="end" font-weight="normal" fill="#111" >−4</text>
<text x="383.2" y="223.1" font-size="15" text-anchor="end" font-weight="normal" fill="#111" >−6</text>
<text x="383.2" y="256.9" font-size="15" text-anchor="end" font-weight="normal" fill="#111" >−8</text>
<text x="392.5" y="273.0" font-size="15" text-anchor="middle" font-weight="normal" fill="#111" >−5</text>
<text x="456.5" y="273.0" font-size="15" text-anchor="middle" font-weight="normal" fill="#111" >0</text>
<text x="522.5" y="273.0" font-size="15" text-anchor="middle" font-weight="normal" fill="#111" >5</text>
<text x="588.5" y="273.0" font-size="15" text-anchor="middle" font-weight="normal" fill="#111" >10</text>
<text x="654.5" y="273.0" font-size="15" text-anchor="middle" font-weight="normal" fill="#111" >15</text>
<path d="M386.5 14.90H390.5 M386.5 48.70H390.5 M386.5 82.50H390.5 M386.5 116.30H390.5 M386.5 150.10H390.5 M386.5 183.90H390.5 M386.5 217.70H390.5 M386.5 251.50H390.5 M390.50 251.5V255.5 M456.50 251.5V255.5 M522.50 251.5V255.5 M588.50 251.5V255.5 M654.50 251.5V255.5" stroke="#111" stroke-width="1.4" fill="none"/>
<text x="531.3" y="295.6" font-size="15.5" text-anchor="middle" font-weight="normal" fill="#111" >PC1 (55.6%)</text>
<text x="356.6" y="133" font-size="15.5" text-anchor="middle" fill="#111" transform="rotate(-90 356.6 133)">PC2 (15.7%)</text>
<circle cx="419.2" cy="53.9" r="5.2" fill="#dccb4f" stroke="#3a3020" stroke-width="0.9"/>
<rect x="411.35" y="56.85" width="10.3" height="10.3" fill="#e6aa55" stroke="#3a3020" stroke-width="0.9"/>
<circle cx="434.5" cy="65.1" r="5.2" fill="#dccb4f" stroke="#3a3020" stroke-width="0.9"/>
<circle cx="405.5" cy="96.5" r="5.2" fill="#dccb4f" stroke="#3a3020" stroke-width="0.9"/>
<rect x="406.85" y="78.85" width="10.3" height="10.3" fill="#e6aa55" stroke="#3a3020" stroke-width="0.9"/>
<rect x="405.35" y="87.85" width="10.3" height="10.3" fill="#e6aa55" stroke="#3a3020" stroke-width="0.9"/>
<circle cx="429.5" cy="81.3" r="5.2" fill="#1f78c1" stroke="#3a3020" stroke-width="0.9"/>
<circle cx="425.5" cy="78.6" r="5.2" fill="#dccb4f" stroke="#3a3020" stroke-width="0.9"/>
<rect x="415.85" y="70.75" width="10.3" height="10.3" fill="#e6aa55" stroke="#3a3020" stroke-width="0.9"/>
<circle cx="415.6" cy="82.6" r="5.2" fill="#1f78c1" stroke="#3a3020" stroke-width="0.9"/>
<circle cx="419.6" cy="100.1" r="5.2" fill="#1f78c1" stroke="#3a3020" stroke-width="0.9"/>
<rect x="401.65000000000003" y="98.35" width="10.3" height="10.3" fill="#e6aa55" stroke="#3a3020" stroke-width="0.9"/>
<circle cx="421.5" cy="91.4" r="5.2" fill="#dccb4f" stroke="#3a3020" stroke-width="0.9"/>
<circle cx="412.7" cy="97.5" r="5.2" fill="#1f78c1" stroke="#3a3020" stroke-width="0.9"/>
<circle cx="426.6" cy="100.6" r="5.2" fill="#1f78c1" stroke="#3a3020" stroke-width="0.9"/>
<circle cx="417.3" cy="108.4" r="5.2" fill="#1f78c1" stroke="#3a3020" stroke-width="0.9"/>
<path d="M434.3 200.6L440.1 212.2H428.5Z" fill="#c98d30" stroke="#3a3020" stroke-width="0.9"/>
<path d="M431.4 193.8L437.2 205.4H425.59999999999997Z" fill="#c98d30" stroke="#3a3020" stroke-width="0.9"/>
<path d="M435.2 192L441.0 203.6H429.4Z" fill="#c98d30" stroke="#3a3020" stroke-width="0.9"/>
<path d="M416.4 184.9L422.2 196.5H410.59999999999997Z" fill="#c98d30" stroke="#3a3020" stroke-width="0.9"/>
<path d="M423.5 209L429.3 220.6H417.7Z" fill="#c98d30" stroke="#3a3020" stroke-width="0.9"/>
<path d="M422 206L427.8 217.6H416.2Z" fill="#c98d30" stroke="#3a3020" stroke-width="0.9"/>
<path d="M439.3 219L445.1 230.6H433.5Z" fill="#c98d30" stroke="#3a3020" stroke-width="0.9"/>
<circle cx="629.4" cy="87.5" r="5.2" fill="#7a4e1e" stroke="#3a3020" stroke-width="0.9"/>
<circle cx="631.7" cy="92.9" r="5.2" fill="#7a4e1e" stroke="#3a3020" stroke-width="0.9"/>
<circle cx="631.4" cy="83.5" r="5.2" fill="#7a4e1e" stroke="#3a3020" stroke-width="0.9"/>
<circle cx="566.8" cy="132.6" r="5.2" fill="#7a4e1e" stroke="#3a3020" stroke-width="0.9"/>
<circle cx="570.9" cy="138.6" r="5.2" fill="#7a4e1e" stroke="#3a3020" stroke-width="0.9"/>
<circle cx="579.6" cy="135.2" r="5.2" fill="#7a4e1e" stroke="#3a3020" stroke-width="0.9"/>
<circle cx="582.3" cy="137.3" r="5.2" fill="#7a4e1e" stroke="#3a3020" stroke-width="0.9"/>
<circle cx="416" cy="313.3" r="5.2" fill="#1f78c1" stroke="#3a3020" stroke-width="0.9"/>
<text x="427" y="318.6" font-size="15" text-anchor="start" font-weight="normal" fill="#111" >Con</text>
<circle cx="466.3" cy="313.3" r="5.2" fill="#dccb4f" stroke="#3a3020" stroke-width="0.9"/>
<text x="474.4" y="318.6" font-size="15" text-anchor="start" font-weight="normal" fill="#111" >Md1</text>
<rect x="511.6" y="308.3" width="10" height="10" fill="#e6aa55" stroke="#3a3020" stroke-width="0.9"/>
<text x="524.6" y="318.6" font-size="15" text-anchor="start" font-weight="normal" fill="#111" >Md2</text>
<path d="M566 307.8L571.5 318.8H560.5Z" fill="#c98d30" stroke="#3a3020" stroke-width="0.9"/>
<text x="573.7" y="318.6" font-size="15" text-anchor="start" font-weight="normal" fill="#111" >Md3</text>
<circle cx="617" cy="313.3" r="5.2" fill="#7a4e1e" stroke="#3a3020" stroke-width="0.9"/>
<text x="626" y="318.6" font-size="15" text-anchor="start" font-weight="normal" fill="#111" >Sds</text>
<defs><pattern id="hatch" patternUnits="userSpaceOnUse" width="7" height="7" patternTransform="rotate(45)"><line x1="1" y1="0" x2="1" y2="7" stroke="rgba(255,255,255,0.72)" stroke-width="0.8"/></pattern></defs>
<rect x="394.30" y="486.74" width="14.00" height="10.76" fill="#2b86c8"/>
<rect x="394.30" y="486.74" width="14.00" height="10.76" fill="url(#hatch)"/>
<rect x="408.30" y="483.47" width="14.00" height="14.03" fill="#b3b83c"/>
<rect x="408.30" y="483.47" width="14.00" height="14.03" fill="url(#hatch)"/>
<rect x="422.30" y="487.21" width="14.00" height="10.29" fill="#dba02c"/>
<rect x="422.30" y="487.21" width="14.00" height="10.29" fill="url(#hatch)"/>
<rect x="436.30" y="406.31" width="14.00" height="91.19" fill="#9c6430"/>
<rect x="436.30" y="406.31" width="14.00" height="91.19" fill="url(#hatch)"/>
<rect x="457.20" y="486.74" width="14.00" height="10.76" fill="#2b86c8"/>
<rect x="457.20" y="486.74" width="14.00" height="10.76" fill="url(#hatch)"/>
<rect x="471.20" y="400.69" width="14.00" height="96.81" fill="#6f4a22"/>
<rect x="471.20" y="400.69" width="14.00" height="96.81" fill="url(#hatch)"/>
<path d="M401.30 485.81V487.68M399.00 485.81H403.60M399.00 487.68H403.60 M415.30 482.07V484.87M413.00 482.07H417.60M413.00 484.87H417.60 M429.30 485.81V488.61M427.00 485.81H431.60M427.00 488.61H431.60 M443.30 382.92V429.69M441.00 382.92H445.60M441.00 429.69H445.60 M464.20 485.81V487.68M461.90 485.81H466.50M461.90 487.68H466.50 M478.20 389.00V412.38M475.90 389.00H480.50M475.90 412.38H480.50" stroke="#111" stroke-width="1.6" fill="none"/>
<text x="385.7" y="501.8" font-size="12" text-anchor="end" font-weight="normal" fill="#111" >0.0</text>
<text x="385.7" y="455.03333333333336" font-size="12" text-anchor="end" font-weight="normal" fill="#111" >1.0</text>
<text x="385.7" y="408.26666666666665" font-size="12" text-anchor="end" font-weight="normal" fill="#111" >2.0</text>
<text x="385.7" y="361.5" font-size="12" text-anchor="end" font-weight="normal" fill="#111" >3.0</text>
<path d="M390 357.20V497.5H490 M390 497.50H393 M390 450.73H393 M390 403.97H393 M390 357.20H393" stroke="#111" stroke-width="1.5" fill="none"/>
<text x="0" y="0" font-size="11.6" fill="#111" stroke="#111" stroke-width="0.25" transform="translate(403.80 524) rotate(-90) scale(0.94 1)">Con</text>
<text x="0" y="0" font-size="11.6" fill="#111" stroke="#111" stroke-width="0.25" transform="translate(417.80 524) rotate(-90) scale(0.94 1)">Md1</text>
<text x="0" y="0" font-size="11.6" fill="#111" stroke="#111" stroke-width="0.25" transform="translate(431.80 524) rotate(-90) scale(0.94 1)">Md2</text>
<text x="0" y="0" font-size="11.6" fill="#111" stroke="#111" stroke-width="0.25" transform="translate(445.80 524) rotate(-90) scale(0.94 1)">Md3</text>
<text x="0" y="0" font-size="11.6" fill="#111" stroke="#111" stroke-width="0.25" transform="translate(466.70 524) rotate(-90) scale(0.94 1)">Con</text>
<text x="0" y="0" font-size="11.6" fill="#111" stroke="#111" stroke-width="0.25" transform="translate(480.70 524) rotate(-90) scale(0.94 1)">Sds</text>
<path d="M401.3 444.7V370.6H443.5V377" stroke="#111" stroke-width="1.2" fill="none"/>
<text x="0" y="0" font-size="22" text-anchor="middle" fill="#111" stroke="#111" stroke-width="0.3" transform="translate(423.79999999999995 375.04) scale(0.55 1)" letter-spacing="1.6">**</text>
<path d="M463.6 444.7V376.3H478.5V384" stroke="#111" stroke-width="1.2" fill="none"/>
<text x="0" y="0" font-size="22" text-anchor="middle" fill="#111" stroke="#111" stroke-width="0.3" transform="translate(471.4 380.34) scale(0.55 1)" letter-spacing="1.6">**</text>
<text x="0" y="0" font-size="16" font-weight="bold" text-anchor="middle" fill="#111" transform="translate(440 351) scale(1.0 1)">Glucose</text>
<text x="334.5" y="351.3" font-size="13.5" text-anchor="start" font-weight="normal" fill="#111" >(e)</text>
<text x="0" y="0" font-size="10.7" text-anchor="middle" fill="#1a1a1a" transform="translate(342.6 427.4) rotate(-90)">Content</text>
<text x="0" y="0" font-size="10.7" text-anchor="middle" fill="#1a1a1a" transform="translate(355.8 429.5) rotate(-90)">(μg mg<tspan dy="-4" font-size="7.5">−1</tspan><tspan dy="4"> powder)</tspan></text>
<rect x="571.50" y="453.75" width="13.70" height="44.25" fill="#2b86c8"/>
<rect x="571.50" y="453.75" width="13.70" height="44.25" fill="url(#hatch)"/>
<rect x="585.20" y="444.55" width="13.70" height="53.45" fill="#b3b83c"/>
<rect x="585.20" y="444.55" width="13.70" height="53.45" fill="url(#hatch)"/>
<rect x="598.90" y="436.22" width="13.70" height="61.78" fill="#dba02c"/>
<rect x="598.90" y="436.22" width="13.70" height="61.78" fill="url(#hatch)"/>
<rect x="612.60" y="439.29" width="13.70" height="58.71" fill="#9c6430"/>
<rect x="612.60" y="439.29" width="13.70" height="58.71" fill="url(#hatch)"/>
<rect x="633.10" y="453.75" width="14.20" height="44.25" fill="#2b86c8"/>
<rect x="633.10" y="453.75" width="14.20" height="44.25" fill="url(#hatch)"/>
<rect x="647.30" y="406.87" width="14.20" height="91.13" fill="#6f4a22"/>
<rect x="647.30" y="406.87" width="14.20" height="91.13" fill="url(#hatch)"/>
<path d="M578.35 445.86V461.64M576.05 445.86H580.65M576.05 461.64H580.65 M592.05 438.85V450.24M589.75 438.85H594.35M589.75 450.24H594.35 M605.75 427.02V445.43M603.45 427.02H608.05M603.45 445.43H608.05 M619.45 433.60V444.99M617.15 433.60H621.75M617.15 444.99H621.75 M640.20 445.86V461.64M637.90 445.86H642.50M637.90 461.64H642.50 M654.40 389.35V424.39M652.10 389.35H656.70M652.10 424.39H656.70" stroke="#111" stroke-width="1.6" fill="none"/>
<text x="559.5" y="502.3" font-size="12" text-anchor="end" font-weight="normal" fill="#111" >0</text>
<text x="559.5" y="467.25" font-size="12" text-anchor="end" font-weight="normal" fill="#111" >400</text>
<text x="559.5" y="432.2" font-size="12" text-anchor="end" font-weight="normal" fill="#111" >800</text>
<text x="559.5" y="397.15000000000003" font-size="12" text-anchor="end" font-weight="normal" fill="#111" >1200</text>
<text x="559.5" y="362.1" font-size="12" text-anchor="end" font-weight="normal" fill="#111" >1600</text>
<path d="M566.5 357.80V498H666 M566.5 498.00H569.5 M566.5 462.95H569.5 M566.5 427.90H569.5 M566.5 392.85H569.5 M566.5 357.80H569.5" stroke="#111" stroke-width="1.5" fill="none"/>
<text x="0" y="0" font-size="11.6" fill="#111" stroke="#111" stroke-width="0.25" transform="translate(580.85 524) rotate(-90) scale(0.94 1)">Con</text>
<text x="0" y="0" font-size="11.6" fill="#111" stroke="#111" stroke-width="0.25" transform="translate(594.55 524) rotate(-90) scale(0.94 1)">Md1</text>
<text x="0" y="0" font-size="11.6" fill="#111" stroke="#111" stroke-width="0.25" transform="translate(608.25 524) rotate(-90) scale(0.94 1)">Md2</text>
<text x="0" y="0" font-size="11.6" fill="#111" stroke="#111" stroke-width="0.25" transform="translate(621.95 524) rotate(-90) scale(0.94 1)">Md3</text>
<text x="0" y="0" font-size="11.6" fill="#111" stroke="#111" stroke-width="0.25" transform="translate(642.70 524) rotate(-90) scale(0.94 1)">Con</text>
<text x="0" y="0" font-size="11.6" fill="#111" stroke="#111" stroke-width="0.25" transform="translate(656.90 524) rotate(-90) scale(0.94 1)">Sds</text>
<path d="M578 433V407.8H606V415.9" stroke="#111" stroke-width="1.2" fill="none"/>
<text x="0" y="0" font-size="22" text-anchor="middle" fill="#111" stroke="#111" stroke-width="0.3" transform="translate(595.1 411.34) scale(0.55 1)" letter-spacing="1.6">*</text>
<path d="M640.2 419.7V367.9H654.6V376.7" stroke="#111" stroke-width="1.2" fill="none"/>
<text x="0" y="0" font-size="22" text-anchor="middle" fill="#111" stroke="#111" stroke-width="0.3" transform="translate(649.4 373.04) scale(0.55 1)" letter-spacing="1.6">**</text>
<text x="0" y="0" font-size="15" font-weight="bold" text-anchor="middle" fill="#111" transform="translate(613 349) scale(0.825 1)">Chlorophyll <tspan font-style="italic" font-weight="normal">a</tspan></text>
<text x="510" y="351.5" font-size="13.5" text-anchor="start" font-weight="normal" fill="#111" >(f)</text>
<text x="0" y="0" font-size="11.2" text-anchor="middle" fill="#1a1a1a" transform="translate(512 431) rotate(-90)">Content</text>
<text x="0" y="0" font-size="11.2" text-anchor="middle" fill="#1a1a1a" transform="translate(523.5 432.3) rotate(-90)">(ng mg<tspan dy="-4" font-size="7.5">−1</tspan><tspan dy="4"> powder)</tspan></text>
<rect x="393.40" y="649.96" width="14.00" height="45.44" fill="#2b86c8"/>
<rect x="393.40" y="649.96" width="14.00" height="45.44" fill="url(#hatch)"/>
<rect x="407.40" y="639.08" width="14.00" height="56.32" fill="#b3b83c"/>
<rect x="407.40" y="639.08" width="14.00" height="56.32" fill="url(#hatch)"/>
<rect x="421.40" y="638.25" width="14.00" height="57.15" fill="#dba02c"/>
<rect x="421.40" y="638.25" width="14.00" height="57.15" fill="url(#hatch)"/>
<rect x="435.40" y="627.65" width="14.00" height="67.75" fill="#9c6430"/>
<rect x="435.40" y="627.65" width="14.00" height="67.75" fill="url(#hatch)"/>
<rect x="456.30" y="649.96" width="14.00" height="45.44" fill="#2b86c8"/>
<rect x="456.30" y="649.96" width="14.00" height="45.44" fill="url(#hatch)"/>
<rect x="470.20" y="601.44" width="14.00" height="93.96" fill="#6f4a22"/>
<rect x="470.20" y="601.44" width="14.00" height="93.96" fill="url(#hatch)"/>
<path d="M400.40 640.20V659.71M398.10 640.20H402.70M398.10 659.71H402.70 M414.40 629.32V648.84M412.10 629.32H416.70M412.10 648.84H416.70 M428.40 633.23V643.26M426.10 633.23H430.70M426.10 643.26H430.70 M442.40 623.47V631.83M440.10 623.47H444.70M440.10 631.83H444.70 M463.30 640.20V659.71M461.00 640.20H465.60M461.00 659.71H465.60 M477.20 580.53V622.35M474.90 580.53H479.50M474.90 622.35H479.50" stroke="#111" stroke-width="1.6" fill="none"/>
<text x="383.9" y="699.6999999999999" font-size="12" text-anchor="end" font-weight="normal" fill="#111" >0</text>
<text x="383.9" y="671.8199999999999" font-size="12" text-anchor="end" font-weight="normal" fill="#111" >100</text>
<text x="383.9" y="643.9399999999999" font-size="12" text-anchor="end" font-weight="normal" fill="#111" >200</text>
<text x="383.9" y="616.06" font-size="12" text-anchor="end" font-weight="normal" fill="#111" >300</text>
<text x="383.9" y="588.18" font-size="12" text-anchor="end" font-weight="normal" fill="#111" >400</text>
<text x="383.9" y="560.3" font-size="12" text-anchor="end" font-weight="normal" fill="#111" >500</text>
<path d="M389 556.00V695.4H490 M389 695.40H392 M389 667.52H392 M389 639.64H392 M389 611.76H392 M389 583.88H392 M389 556.00H392" stroke="#111" stroke-width="1.5" fill="none"/>
<text x="0" y="0" font-size="11.6" fill="#111" stroke="#111" stroke-width="0.25" transform="translate(402.90 722) rotate(-90) scale(0.94 1)">Con</text>
<text x="0" y="0" font-size="11.6" fill="#111" stroke="#111" stroke-width="0.25" transform="translate(416.90 722) rotate(-90) scale(0.94 1)">Md1</text>
<text x="0" y="0" font-size="11.6" fill="#111" stroke="#111" stroke-width="0.25" transform="translate(430.90 722) rotate(-90) scale(0.94 1)">Md2</text>
<text x="0" y="0" font-size="11.6" fill="#111" stroke="#111" stroke-width="0.25" transform="translate(444.90 722) rotate(-90) scale(0.94 1)">Md3</text>
<text x="0" y="0" font-size="11.6" fill="#111" stroke="#111" stroke-width="0.25" transform="translate(465.80 722) rotate(-90) scale(0.94 1)">Con</text>
<text x="0" y="0" font-size="11.6" fill="#111" stroke="#111" stroke-width="0.25" transform="translate(479.70 722) rotate(-90) scale(0.94 1)">Sds</text>
<path d="M400.4 630V604.6H442.8V612.7" stroke="#111" stroke-width="1.2" fill="none"/>
<text x="0" y="0" font-size="22" text-anchor="middle" fill="#111" stroke="#111" stroke-width="0.3" transform="translate(422.2 608.84) scale(0.55 1)" letter-spacing="1.6">*</text>
<path d="M462.7 615.2V563.4H477.5V571.6" stroke="#111" stroke-width="1.2" fill="none"/>
<text x="0" y="0" font-size="22" text-anchor="middle" fill="#111" stroke="#111" stroke-width="0.3" transform="translate(470.5 569.34) scale(0.55 1)" letter-spacing="1.6">**</text>
<text x="0" y="0" font-size="15" font-weight="bold" text-anchor="middle" fill="#111" transform="translate(435 550.4) scale(0.825 1)">Chlorophyll <tspan font-style="italic" font-weight="normal">b</tspan></text>
<text x="334.6" y="549.1" font-size="13.5" text-anchor="start" font-weight="normal" fill="#111" >(g)</text>
<text x="0" y="0" font-size="11" text-anchor="middle" fill="#1a1a1a" transform="translate(339.5 627.5) rotate(-90)">Content</text>
<text x="0" y="0" font-size="11" text-anchor="middle" fill="#1a1a1a" transform="translate(352 627.5) rotate(-90)">(ng mg<tspan dy="-4" font-size="7.5">−1</tspan><tspan dy="4"> powder)</tspan></text>
<rect x="570.20" y="586.68" width="14.00" height="108.42" fill="#2b86c8"/>
<rect x="570.20" y="586.68" width="14.00" height="108.42" fill="url(#hatch)"/>
<rect x="584.20" y="588.80" width="14.00" height="106.30" fill="#b3b83c"/>
<rect x="584.20" y="588.80" width="14.00" height="106.30" fill="url(#hatch)"/>
<rect x="598.20" y="584.22" width="14.00" height="110.88" fill="#dba02c"/>
<rect x="598.20" y="584.22" width="14.00" height="110.88" fill="url(#hatch)"/>
<rect x="612.20" y="591.26" width="14.00" height="103.84" fill="#9c6430"/>
<rect x="612.20" y="591.26" width="14.00" height="103.84" fill="url(#hatch)"/>
<rect x="633.10" y="586.68" width="14.00" height="108.42" fill="#2b86c8"/>
<rect x="633.10" y="586.68" width="14.00" height="108.42" fill="url(#hatch)"/>
<rect x="647.00" y="589.50" width="14.00" height="105.60" fill="#6f4a22"/>
<rect x="647.00" y="589.50" width="14.00" height="105.60" fill="url(#hatch)"/>
<path d="M577.20 575.42V597.95M574.90 575.42H579.50M574.90 597.95H579.50 M591.20 577.18V600.41M588.90 577.18H593.50M588.90 600.41H593.50 M605.20 575.42V593.02M602.90 575.42H607.50M602.90 593.02H607.50 M619.20 585.98V596.54M616.90 585.98H621.50M616.90 596.54H621.50 M640.10 575.42V597.95M637.80 575.42H642.40M637.80 597.95H642.40 M654.00 582.46V596.54M651.70 582.46H656.30M651.70 596.54H656.30" stroke="#111" stroke-width="1.6" fill="none"/>
<text x="560.6999999999999" y="699.4" font-size="12" text-anchor="end" font-weight="normal" fill="#111" >0.0</text>
<text x="560.6999999999999" y="664.1999999999999" font-size="12" text-anchor="end" font-weight="normal" fill="#111" >1.0</text>
<text x="560.6999999999999" y="629.0" font-size="12" text-anchor="end" font-weight="normal" fill="#111" >2.0</text>
<text x="560.6999999999999" y="593.8" font-size="12" text-anchor="end" font-weight="normal" fill="#111" >3.0</text>
<text x="560.6999999999999" y="558.5999999999999" font-size="12" text-anchor="end" font-weight="normal" fill="#111" >4.0</text>
<path d="M565.8 554.30V695.1H666 M565.8 695.10H568.8 M565.8 659.90H568.8 M565.8 624.70H568.8 M565.8 589.50H568.8 M565.8 554.30H568.8" stroke="#111" stroke-width="1.5" fill="none"/>
<text x="0" y="0" font-size="11.6" fill="#111" stroke="#111" stroke-width="0.25" transform="translate(579.70 722) rotate(-90) scale(0.94 1)">Con</text>
<text x="0" y="0" font-size="11.6" fill="#111" stroke="#111" stroke-width="0.25" transform="translate(593.70 722) rotate(-90) scale(0.94 1)">Md1</text>
<text x="0" y="0" font-size="11.6" fill="#111" stroke="#111" stroke-width="0.25" transform="translate(607.70 722) rotate(-90) scale(0.94 1)">Md2</text>
<text x="0" y="0" font-size="11.6" fill="#111" stroke="#111" stroke-width="0.25" transform="translate(621.70 722) rotate(-90) scale(0.94 1)">Md3</text>
<text x="0" y="0" font-size="11.6" fill="#111" stroke="#111" stroke-width="0.25" transform="translate(642.60 722) rotate(-90) scale(0.94 1)">Con</text>
<text x="0" y="0" font-size="11.6" fill="#111" stroke="#111" stroke-width="0.25" transform="translate(656.50 722) rotate(-90) scale(0.94 1)">Sds</text>
<text x="0" y="0" font-size="15" font-weight="bold" text-anchor="middle" fill="#111" transform="translate(612 550.3) scale(0.825 1)">Chlorophyll a/b</text>
<text x="510.1" y="550" font-size="13.5" text-anchor="start" font-weight="normal" fill="#111" >(h)</text>
<text x="0" y="0" font-size="13.5" text-anchor="middle" fill="#1a1a1a" transform="translate(535.5 627.3) rotate(-90)">Ratio</text>
<rect x="394.20" y="853.51" width="14.00" height="36.19" fill="#2b86c8"/>
<rect x="394.20" y="853.51" width="14.00" height="36.19" fill="url(#hatch)"/>
<rect x="408.20" y="851.42" width="14.00" height="38.28" fill="#b3b83c"/>
<rect x="408.20" y="851.42" width="14.00" height="38.28" fill="url(#hatch)"/>
<rect x="422.20" y="855.07" width="14.00" height="34.63" fill="#dba02c"/>
<rect x="422.20" y="855.07" width="14.00" height="34.63" fill="url(#hatch)"/>
<rect x="436.20" y="789.82" width="14.00" height="99.88" fill="#9c6430"/>
<rect x="436.20" y="789.82" width="14.00" height="99.88" fill="url(#hatch)"/>
<rect x="455.10" y="853.51" width="14.30" height="36.19" fill="#2b86c8"/>
<rect x="455.10" y="853.51" width="14.30" height="36.19" fill="url(#hatch)"/>
<rect x="469.50" y="878.56" width="14.30" height="11.14" fill="#6f4a22"/>
<rect x="469.50" y="878.56" width="14.30" height="11.14" fill="url(#hatch)"/>
<path d="M401.20 843.07V863.95M398.90 843.07H403.50M398.90 863.95H403.50 M415.20 847.24V855.60M412.90 847.24H417.50M412.90 855.60H417.50 M429.20 837.15V873.00M426.90 837.15H431.50M426.90 873.00H431.50 M443.20 771.73V807.92M440.90 771.73H445.50M440.90 807.92H445.50 M462.25 843.07V863.95M459.95 843.07H464.55M459.95 863.95H464.55 M476.65 873.34V883.78M474.35 873.34H478.95M474.35 883.78H478.95" stroke="#111" stroke-width="1.6" fill="none"/>
<text x="384.4" y="894.0" font-size="12" text-anchor="end" font-weight="normal" fill="#111" >0.0</text>
<text x="384.4" y="859.2" font-size="12" text-anchor="end" font-weight="normal" fill="#111" >1.0</text>
<text x="384.4" y="824.4" font-size="12" text-anchor="end" font-weight="normal" fill="#111" >2.0</text>
<text x="384.4" y="789.5999999999999" font-size="12" text-anchor="end" font-weight="normal" fill="#111" >3.0</text>
<text x="384.4" y="754.8" font-size="12" text-anchor="end" font-weight="normal" fill="#111" >4.0</text>
<path d="M390 750.50V889.7H490 M390 889.70H393 M390 854.90H393 M390 820.10H393 M390 785.30H393 M390 750.50H393" stroke="#111" stroke-width="1.5" fill="none"/>
<text x="0" y="0" font-size="11.6" fill="#111" stroke="#111" stroke-width="0.25" transform="translate(403.70 916) rotate(-90) scale(0.94 1)">Con</text>
<text x="0" y="0" font-size="11.6" fill="#111" stroke="#111" stroke-width="0.25" transform="translate(417.70 916) rotate(-90) scale(0.94 1)">Md1</text>
<text x="0" y="0" font-size="11.6" fill="#111" stroke="#111" stroke-width="0.25" transform="translate(431.70 916) rotate(-90) scale(0.94 1)">Md2</text>
<text x="0" y="0" font-size="11.6" fill="#111" stroke="#111" stroke-width="0.25" transform="translate(445.70 916) rotate(-90) scale(0.94 1)">Md3</text>
<text x="0" y="0" font-size="11.6" fill="#111" stroke="#111" stroke-width="0.25" transform="translate(464.75 916) rotate(-90) scale(0.94 1)">Con</text>
<text x="0" y="0" font-size="11.6" fill="#111" stroke="#111" stroke-width="0.25" transform="translate(479.15 916) rotate(-90) scale(0.94 1)">Sds</text>
<path d="M400.4 832V756.5H443.5V762.4" stroke="#111" stroke-width="1.2" fill="none"/>
<text x="0" y="0" font-size="22" text-anchor="middle" fill="#111" stroke="#111" stroke-width="0.3" transform="translate(425.4 759.24) scale(0.55 1)" letter-spacing="1.6">**</text>
<path d="M462 800V793.8H476.8V852.6" stroke="#111" stroke-width="1.2" fill="none"/>
<text x="0" y="0" font-size="22" text-anchor="middle" fill="#111" stroke="#111" stroke-width="0.3" transform="translate(469.79999999999995 797.44) scale(0.55 1)" letter-spacing="1.6">**</text>
<text x="0" y="0" font-size="16" font-weight="bold" text-anchor="middle" fill="#111" transform="translate(436 743.3) scale(1.0 1)">Starch</text>
<text x="334.2" y="747" font-size="13.5" text-anchor="start" font-weight="normal" fill="#111" >(i)</text>
<text x="0" y="0" font-size="10.7" text-anchor="middle" fill="#1a1a1a" transform="translate(344 819.3) rotate(-90)">Content</text>
<text x="0" y="0" font-size="10.5" text-anchor="middle" fill="#1a1a1a" transform="translate(356.5 824.5) rotate(-90)">(μg mg<tspan dy="-4" font-size="7.5">−1</tspan><tspan dy="4"> powder)</tspan></text>
<rect x="569.50" y="886.17" width="14.00" height="3.03" fill="#2b86c8"/>
<rect x="569.50" y="886.17" width="14.00" height="3.03" fill="url(#hatch)"/>
<rect x="583.60" y="886.87" width="14.00" height="2.33" fill="#b3b83c"/>
<rect x="583.60" y="886.87" width="14.00" height="2.33" fill="url(#hatch)"/>
<rect x="597.70" y="886.64" width="14.00" height="2.56" fill="#dba02c"/>
<rect x="597.70" y="886.64" width="14.00" height="2.56" fill="url(#hatch)"/>
<rect x="611.80" y="873.60" width="14.00" height="15.60" fill="#9c6430"/>
<rect x="611.80" y="873.60" width="14.00" height="15.60" fill="url(#hatch)"/>
<rect x="632.60" y="885.01" width="14.20" height="4.19" fill="#2b86c8"/>
<rect x="632.60" y="885.01" width="14.20" height="4.19" fill="url(#hatch)"/>
<rect x="647.00" y="790.71" width="14.20" height="98.49" fill="#6f4a22"/>
<rect x="647.00" y="790.71" width="14.20" height="98.49" fill="url(#hatch)"/>
<path d="M576.50 885.47V886.87M574.20 885.47H578.80M574.20 886.87H578.80 M590.60 886.41V887.34M588.30 886.41H592.90M588.30 887.34H592.90 M604.70 886.17V887.10M602.40 886.17H607.00M602.40 887.10H607.00 M618.80 869.87V877.33M616.50 869.87H621.10M616.50 877.33H621.10 M639.70 883.15V886.87M637.40 883.15H642.00M637.40 886.87H642.00 M654.10 777.21V804.22M651.80 777.21H656.40M651.80 804.22H656.40" stroke="#111" stroke-width="1.6" fill="none"/>
<text x="560.7" y="893.5" font-size="12" text-anchor="end" font-weight="normal" fill="#111" >0</text>
<text x="560.7" y="846.9333333333333" font-size="12" text-anchor="end" font-weight="normal" fill="#111" >20</text>
<text x="560.7" y="800.3666666666667" font-size="12" text-anchor="end" font-weight="normal" fill="#111" >40</text>
<text x="560.7" y="753.8" font-size="12" text-anchor="end" font-weight="normal" fill="#111" >60</text>
<path d="M566.2 749.50V889.2H666 M566.2 889.20H569.2 M566.2 842.63H569.2 M566.2 796.07H569.2 M566.2 749.50H569.2" stroke="#111" stroke-width="1.5" fill="none"/>
<text x="0" y="0" font-size="11.6" fill="#111" stroke="#111" stroke-width="0.25" transform="translate(579.00 916) rotate(-90) scale(0.94 1)">Con</text>
<text x="0" y="0" font-size="11.6" fill="#111" stroke="#111" stroke-width="0.25" transform="translate(593.10 916) rotate(-90) scale(0.94 1)">Md1</text>
<text x="0" y="0" font-size="11.6" fill="#111" stroke="#111" stroke-width="0.25" transform="translate(607.20 916) rotate(-90) scale(0.94 1)">Md2</text>
<text x="0" y="0" font-size="11.6" fill="#111" stroke="#111" stroke-width="0.25" transform="translate(621.30 916) rotate(-90) scale(0.94 1)">Md3</text>
<text x="0" y="0" font-size="11.6" fill="#111" stroke="#111" stroke-width="0.25" transform="translate(642.20 916) rotate(-90) scale(0.94 1)">Con</text>
<text x="0" y="0" font-size="11.6" fill="#111" stroke="#111" stroke-width="0.25" transform="translate(656.60 916) rotate(-90) scale(0.94 1)">Sds</text>
<path d="M576.5 865.2V834.9H618.7V843.8" stroke="#111" stroke-width="1.2" fill="none"/>
<text x="0" y="0" font-size="22" text-anchor="middle" fill="#111" stroke="#111" stroke-width="0.3" transform="translate(602.6999999999999 838.24) scale(0.55 1)" letter-spacing="1.6">**</text>
<path d="M639.7 825.5V757.9H653.6V765.5" stroke="#111" stroke-width="1.2" fill="none"/>
<text x="0" y="0" font-size="22" text-anchor="middle" fill="#111" stroke="#111" stroke-width="0.3" transform="translate(646.9 762.84) scale(0.55 1)" letter-spacing="1.6">**</text>
<text x="0" y="0" font-size="16" font-weight="bold" text-anchor="middle" fill="#111" transform="translate(609 743.2) scale(1.0 1)">ABA</text>
<text x="509.6" y="748" font-size="13.5" text-anchor="start" font-weight="normal" fill="#111" >(j)</text>
<text x="0" y="0" font-size="10.7" text-anchor="middle" fill="#1a1a1a" transform="translate(518.8 817.3) rotate(-90)">Content</text>
<text x="0" y="0" font-size="10.8" text-anchor="middle" fill="#1a1a1a" transform="translate(534.5 816.8) rotate(-90)">(pmoles mg<tspan dy="-4" font-size="7.5">−1</tspan><tspan dy="4"> powder)</tspan></text>
</svg></body></html>
